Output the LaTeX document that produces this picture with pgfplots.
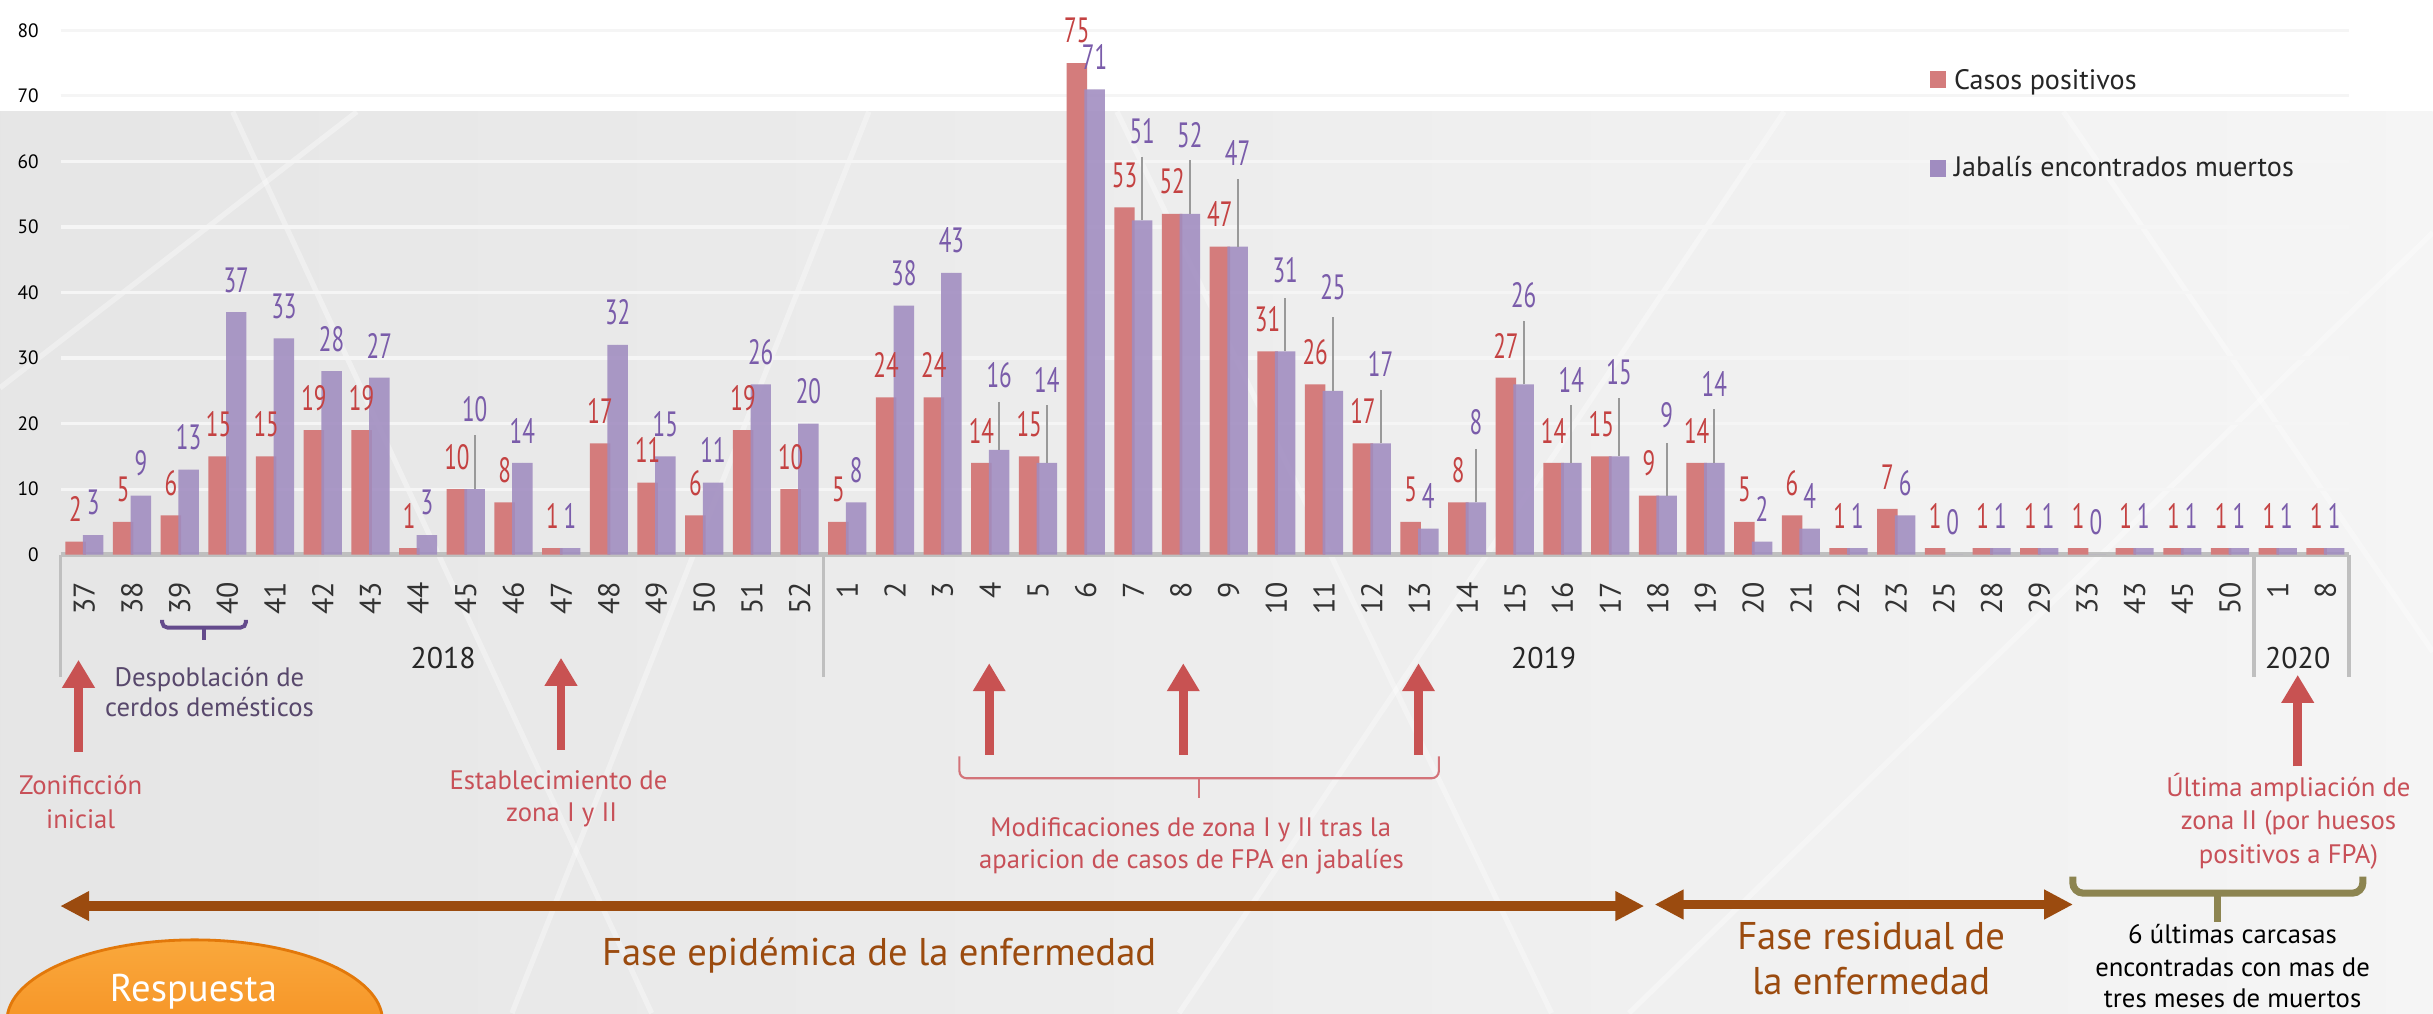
\documentclass[border=0pt]{standalone}
\usepackage{fontspec}
\setmainfont{PT Sans}
\newfontfamily\condfont[FakeStretch=0.66]{PT Sans}
\usepackage{pgfplots}
\pgfplotsset{compat=1.18}
\usepackage{pgfplotstable}
\usetikzlibrary{arrows.meta}
\definecolor{barred}{RGB}{212,124,124}
\definecolor{barpur}{RGB}{160,140,192}
\definecolor{labred}{RGB}{196,66,66}
\definecolor{labpur}{RGB}{122,92,170}
\definecolor{arrred}{RGB}{200,82,82}
\definecolor{phasebrown}{RGB}{155,75,15}
\definecolor{braceolive}{RGB}{140,132,80}
\definecolor{annred}{RGB}{200,80,88}
\definecolor{annpur}{RGB}{88,72,108}
\definecolor{bracepur}{RGB}{100,75,140}
\definecolor{orangeA}{RGB}{250,168,60}
\definecolor{orangeB}{RGB}{242,132,20}
\definecolor{orangeD}{RGB}{226,120,10}

\pgfplotstableread{
i cas jab lift le
0 2 3 0 0
1 5 9 0 0
2 6 13 0 0
3 15 37 0 0
4 15 33 0 0
5 19 28 0 0
6 19 27 0 0
7 1 3 0 0
8 10 10 7.3 8.2
9 8 14 0 0
10 1 1 0 0
11 17 32 0 0
12 11 15 0 0
13 6 11 0 0
14 19 26 0 0
15 10 20 0 0
16 5 8 0 0
17 24 38 0 0
18 24 43 0 0
19 14 16 6.4 7.3
20 15 14 7.8 8.8
21 75 71 0 0
22 53 51 8.6 9.7
23 52 52 7.1 8.2
24 47 47 9.4 10.3
25 31 31 7.4 8.1
26 26 25 10.9 11.2
27 17 17 7.2 8.2
28 5 4 0 0
29 8 8 7.3 8.1
30 27 26 8.6 9.7
31 14 14 7.8 8.8
32 15 15 7.9 8.9
33 9 9 7.3 8.0
34 14 14 7.1 8.2
35 5 2 0 0
36 6 4 0 0
37 1 1 0 0
38 7 6 0 0
39 1 0 0 0
40 1 1 0 0
41 1 1 0 0
42 1 0 0 0
43 1 1 0 0
44 1 1 0 0
45 1 1 0 0
46 1 1 0 0
47 1 1 0 0
}\datatab

\begin{document}
\begin{tikzpicture}
\useasboundingbox (0,0) rectangle (24.3354cm,-10.1346cm);
\clip (0,0) rectangle (24.3354cm,-10.1346cm);
% background
\begin{scope}[x=0.01552cm,y=-0.01552cm]
  \fill[white] (0,0) rectangle (1568,72);
  \shade[left color=black!10, right color=black!4] (0,72) rectangle (1568,653);
  \begin{scope}[white, line width=1.5pt, opacity=0.35]
    \draw (0,250) -- (230,72);
    \draw (150,72) -- (420,653);
    \draw (560,72) -- (330,653);
    \draw (720,72) -- (1000,653);
    \draw (1150,72) -- (760,653);
    \draw (1330,72) -- (1568,420);
    \draw (1568,150) -- (1050,653);
  \end{scope}
\end{scope}
\begin{axis}[
  at={(0.60528cm,-5.5484cm)}, anchor=south west,
  scale only axis, width=22.892cm, height=5.2458cm,
  xmin=-0.5, xmax=47.5, ymin=0, ymax=80,
  axis lines*=left,
  y axis line style={draw=none},
  x axis line style={draw=black!25, line width=1.3pt},
  ytick={0,10,...,80},
  xtick={0,...,47},
  xticklabels={37,38,39,40,41,42,43,44,45,46,47,48,49,50,51,52,1,2,3,4,5,6,7,8,9,10,11,12,13,14,15,16,17,18,19,20,21,22,23,25,28,29,33,43,45,50,1,8},
  major tick length=0pt,
  ymajorgrids,
  major grid style={draw=black!4, line width=0.9pt},
  /pgf/number format/assume math mode=true,
  yticklabel style={font=\fontsize{5.5}{6}\selectfont, text=black, inner xsep=6pt},
  xticklabel style={rotate=90, anchor=east, font=\fontsize{8.5}{9}\selectfont, text=black!80, inner xsep=7.5pt, inner ysep=0pt},
  clip=false,
]
\addplot[ybar, bar width=0.4296, bar shift=0pt, fill=barred, draw=none,
  nodes near coords,
  every node near coord/.append style={font=\condfont\fontsize{10}{10}\selectfont, text=labred, inner sep=1pt, yshift=4.4pt}]
  table[x expr=\thisrow{i}-0.1855, y=cas] {\datatab};
\addplot[ybar, bar width=0.4296, bar shift=0pt, fill=barpur, fill opacity=0.88, draw=none,
  visualization depends on={\thisrow{lift} \as \lift},
  nodes near coords,
  every node near coord/.append style={font=\condfont\fontsize{10}{10}\selectfont, text=labpur, text opacity=1, inner sep=1pt, yshift={(4.4+\lift*1.8656)*1pt}},
  error bars/.cd, y dir=plus, y explicit, error mark=none,
  error bar style={black!40, line width=0.6pt}]
  table[x expr=\thisrow{i}+0.1855, y=jab, y error plus=le] {\datatab};
\draw[black!25, line width=1pt] (axis cs:-0.5,0) -- (axis cs:-0.5,-18.6);
\draw[black!25, line width=1pt] (axis cs:15.5,0) -- (axis cs:15.5,-18.6);
\draw[black!25, line width=1pt] (axis cs:45.5,0) -- (axis cs:45.5,-18.6);
\draw[black!25, line width=1pt] (axis cs:47.5,0) -- (axis cs:47.5,-18.6);
\end{axis}
% annotations
\begin{scope}[x=0.01552cm,y=-0.01552cm]
  % legend
  \fill[barred] (1244,46) rectangle (1254,57);
  \node[anchor=base west, inner sep=0, font=\fontsize{8}{9}\selectfont, text=black!85] at (1259,57.6) {Casos positivos};
  \fill[barpur] (1244,103) rectangle (1254,114);
  \node[anchor=base west, inner sep=0, font=\fontsize{8}{9}\selectfont, text=black!85] at (1259,113.9) {Jabalís encontrados muertos};
  % years
  \foreach \x/\t in {285.6/2018, 995/2019, 1481/2020}
    \node[anchor=base, inner sep=0, font=\fontsize{8.5}{9}\selectfont, text=black!85] at (\x,430.7) {\t};
  % purple brace
  \draw[bracepur, line width=1.1pt, rounded corners=1.5pt] (104.5,399.6) -- (104.5,404.5) -- (158.5,404.5) -- (158.5,399.6);
  \draw[bracepur, line width=1.1pt] (131.5,404.5) -- (131.5,412.4);
  \node[anchor=base, inner sep=0, font=\fontsize{7.6}{8}\selectfont, text=annpur] at (135,442.5) {Despoblación de};
  \node[anchor=base, inner sep=0, font=\fontsize{7.6}{8}\selectfont, text=annpur] at (135,461.9) {cerdos demésticos};
  % red arrows
  \foreach \x/\yb/\yt in {50.6/484.4/425.3, 361.6/483.3/424, 637.6/486.6/427.5, 762.7/486.6/427.5, 914.3/486.6/427.5, 1481/494/435}
    \draw[arrred, line width=2.5pt, -{Triangle[width=0.31cm,length=0.28cm]}] (\x,\yb) -- (\x,\yt);
  \node[anchor=base, inner sep=0, font=\fontsize{7.6}{8}\selectfont, text=annred] at (52,512.3) {Zonificción};
  \node[anchor=base, inner sep=0, font=\fontsize{7.6}{8}\selectfont, text=annred] at (52,533.8) {inicial};
  \node[anchor=base, inner sep=0, font=\fontsize{7.6}{8}\selectfont, text=annred] at (360,509) {Establecimiento de};
  \node[anchor=base, inner sep=0, font=\fontsize{7.6}{8}\selectfont, text=annred] at (362,529.5) {zona I y II};
  % red brace
  \draw[annred!80, line width=0.6pt, rounded corners=2pt] (618.4,487.6) -- (618.4,501.6) -- (927.4,501.6) -- (927.4,487.6);
  \draw[annred!80, line width=0.6pt] (773,501.6) -- (773,514.5);
  \node[anchor=base, inner sep=0, font=\fontsize{7.6}{8}\selectfont, text=annred] at (767.5,539.2) {Modificaciones de zona I y II tras la};
  \node[anchor=base, inner sep=0, font=\fontsize{7.6}{8}\selectfont, text=annred] at (768,559.6) {aparicion de casos de FPA en jabalíes};
  \node[anchor=base, inner sep=0, font=\fontsize{7.6}{8}\selectfont, text=annred] at (1475,513.4) {Última ampliación de};
  \node[anchor=base, inner sep=0, font=\fontsize{7.6}{8}\selectfont, text=annred] at (1475,534.9) {zona II (por huesos};
  \node[anchor=base, inner sep=0, font=\fontsize{7.6}{8}\selectfont, text=annred] at (1475,556.4) {positivos a FPA)};
  % phase arrows
  \draw[phasebrown, line width=2.8pt, {Triangle[width=0.28cm,length=0.29cm]}-{Triangle[width=0.28cm,length=0.29cm]}] (38.8,584) -- (1059.8,584);
  \draw[phasebrown, line width=2.8pt, {Triangle[width=0.28cm,length=0.29cm]}-{Triangle[width=0.28cm,length=0.29cm]}] (1066.5,583) -- (1336.2,583);
  \node[anchor=base west, inner sep=0, font=\fontsize{11}{12}\selectfont, text=phasebrown] at (387.6,622) {Fase epidémica de la enfermedad};
  \node[anchor=base, inner sep=0, font=\fontsize{11}{12}\selectfont, text=phasebrown] at (1206,612.2) {Fase residual de};
  \node[anchor=base, inner sep=0, font=\fontsize{11}{12}\selectfont, text=phasebrown] at (1206,641.2) {la enfermedad};
  % olive brace
  \draw[braceolive, line width=2pt, rounded corners=3pt] (1336,565) -- (1336,575.7) -- (1523,575.7) -- (1523,565);
  \draw[braceolive, line width=2pt] (1429.5,575.7) -- (1429.5,594);
  \node[anchor=base, inner sep=0, font=\fontsize{7.6}{8}\selectfont, text=black] at (1439,608) {6 últimas carcasas};
  \node[anchor=base, inner sep=0, font=\fontsize{7.6}{8}\selectfont, text=black] at (1439,629.4) {encontradas con mas de};
  \node[anchor=base, inner sep=0, font=\fontsize{7.6}{8}\selectfont, text=black] at (1439,649.5) {tres meses de muertos};
  % orange ellipse
  \shadedraw[top color=orangeA, bottom color=orangeB, draw=orangeD, line width=0.8pt] (125.5,657.8) ellipse (121 and 52);
  \node[anchor=base, inner sep=0, font=\fontsize{11}{12}\selectfont, text=white] at (124.7,645.5) {Respuesta};
\end{scope}
\end{tikzpicture}
\end{document}
